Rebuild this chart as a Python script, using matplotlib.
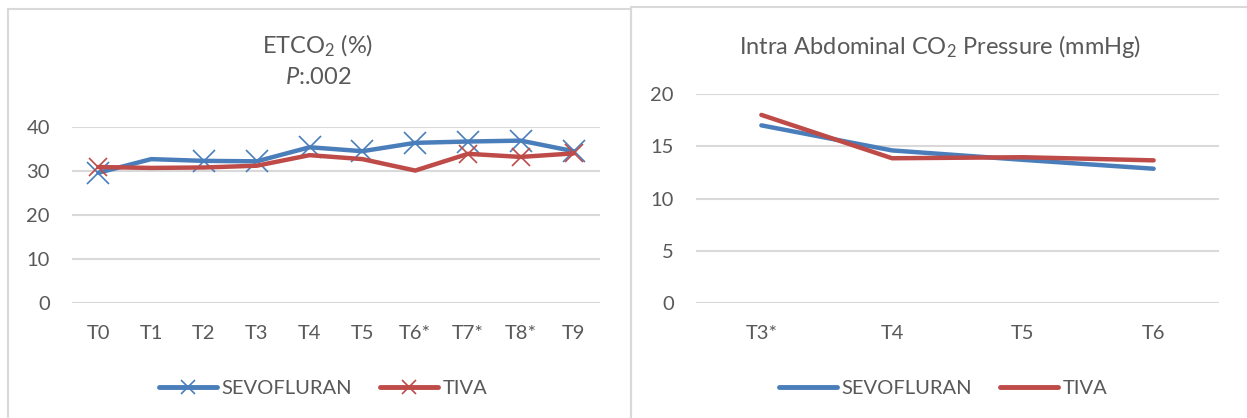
import matplotlib
matplotlib.use("Agg")
import matplotlib.pyplot as plt
from matplotlib.lines import Line2D
from matplotlib.patches import Rectangle

plt.rcParams['font.family'] = ['Lato', 'DejaVu Sans']
plt.rcParams['mathtext.fontset'] = 'custom'
plt.rcParams['mathtext.rm'] = 'Lato'
plt.rcParams['mathtext.it'] = 'Lato:italic'

# ETCO2 chart data
etco2_labels = ['T0', 'T1', 'T2', 'T3', 'T4', 'T5', 'T6*', 'T7*', 'T8*', 'T9']
etco2_sevo = [29.6, 32.7, 32.3, 32.2, 35.4, 34.5, 36.4, 36.7, 36.9, 34.5]
etco2_tiva = [30.9, 30.7, 30.8, 31.2, 33.6, 32.7, 30.1, 33.9, 33.2, 34.0]
etco2_ticks = [0, 10, 20, 30, 40]

# Intra abdominal CO2 pressure data
iap_labels = ['T3*', 'T4', 'T5', 'T6']
iap_sevo = [17.0, 14.6, 13.7, 12.85]
iap_tiva = [18.0, 13.85, 13.95, 13.65]
iap_ticks = [0, 5, 10, 15, 20]

BLUE = '#4a7ebb'
RED = '#be4b48'
GRID = '#d9d9d9'
TXT = '#595959'
W, H = 1247, 418
FS = 14.5     # ticks / legend
TFS = 17      # titles

fig = plt.figure(figsize=(W / 100, H / 100), dpi=100)


def px_axes(x0, x1, ytop, ybot):
    return fig.add_axes([x0 / W, (H - ybot) / H, (x1 - x0) / W, (ybot - ytop) / H])


def style(ax, labels, ticks):
    ax.set_xlim(-0.5, len(labels) - 0.5)
    ax.set_ylim(ticks[0], ticks[-1])
    ax.set_xticks(range(len(labels)))
    ax.set_xticklabels(labels)
    ax.set_yticks(ticks)
    for s in ax.spines.values():
        s.set_visible(False)
    ax.tick_params(length=0, labelsize=FS, colors=TXT)
    ax.tick_params(axis='y', pad=16)
    ax.tick_params(axis='x', pad=16)
    ax.grid(axis='y', color=GRID, lw=1.5)
    ax.set_axisbelow(True)
    ax.patch.set_alpha(0)


# panel borders
fig.patches.append(Rectangle((8 / W, -0.1), 623 / W, 1.1 - 9 / H, transform=fig.transFigure,
                             fill=False, ec=GRID, lw=1.5))
fig.patches.append(Rectangle((631 / W, -0.1), 0.5, 1.1 - 7 / H, transform=fig.transFigure,
                             fill=False, ec=GRID, lw=1.5))

# left chart
ax1 = px_axes(72, 600, 127, 303)
style(ax1, etco2_labels, etco2_ticks)
x1 = range(len(etco2_labels))
ax1.plot(x1, etco2_sevo, color=BLUE, lw=3.2, marker='x', ms=16, mew=1.2,
         markevery=[0, 2, 3, 4, 5, 6, 7, 8, 9], solid_capstyle='round', clip_on=False)
ax1.plot(x1, etco2_tiva, color=RED, lw=3.2, marker='x', ms=13, mew=1.2,
         markevery=[0, 7, 8, 9], solid_capstyle='round', clip_on=False)
fig.text(318 / W, 1 - 46 / H, 'ETCO$_2$ (%)', ha='center', va='center', fontsize=TFS, color=TXT)
fig.text(318 / W, 1 - 78 / H, '$P$:.002', ha='center', va='center', fontsize=TFS, color=TXT)
h1 = [Line2D([], [], color=BLUE, lw=3.5, marker='x', ms=10, mew=1.2, solid_capstyle='round'),
      Line2D([], [], color=RED, lw=3.5, marker='x', ms=10, mew=1.2, solid_capstyle='round')]
fig.legend(h1, ['SEVOFLURAN', 'TIVA'], loc='center', bbox_to_anchor=(323 / W, 1 - 388 / H),
           ncol=2, frameon=False, fontsize=FS, labelcolor=TXT, handlelength=2.9,
           handletextpad=0.2, columnspacing=1.4)

# right chart
ax2 = px_axes(696, 1219, 94, 303)
style(ax2, iap_labels, iap_ticks)
x2 = range(len(iap_labels))
ax2.plot(x2, iap_sevo, color=BLUE, lw=3.2, solid_capstyle='round')
ax2.plot(x2, iap_tiva, color=RED, lw=3.2, solid_capstyle='round')
fig.text(940 / W, 1 - 46 / H, 'Intra Abdominal CO$_2$ Pressure (mmHg)', ha='center', va='center',
         fontsize=TFS, color=TXT)
h2 = [Line2D([], [], color=BLUE, lw=3.5, solid_capstyle='round'),
      Line2D([], [], color=RED, lw=3.5, solid_capstyle='round')]
fig.legend(h2, ['SEVOFLURAN', 'TIVA'], loc='center', bbox_to_anchor=(943 / W, 1 - 388 / H),
           ncol=2, frameon=False, fontsize=FS, labelcolor=TXT, handlelength=2.9,
           handletextpad=0.2, columnspacing=1.4)

fig.savefig('out.png', dpi=100)
